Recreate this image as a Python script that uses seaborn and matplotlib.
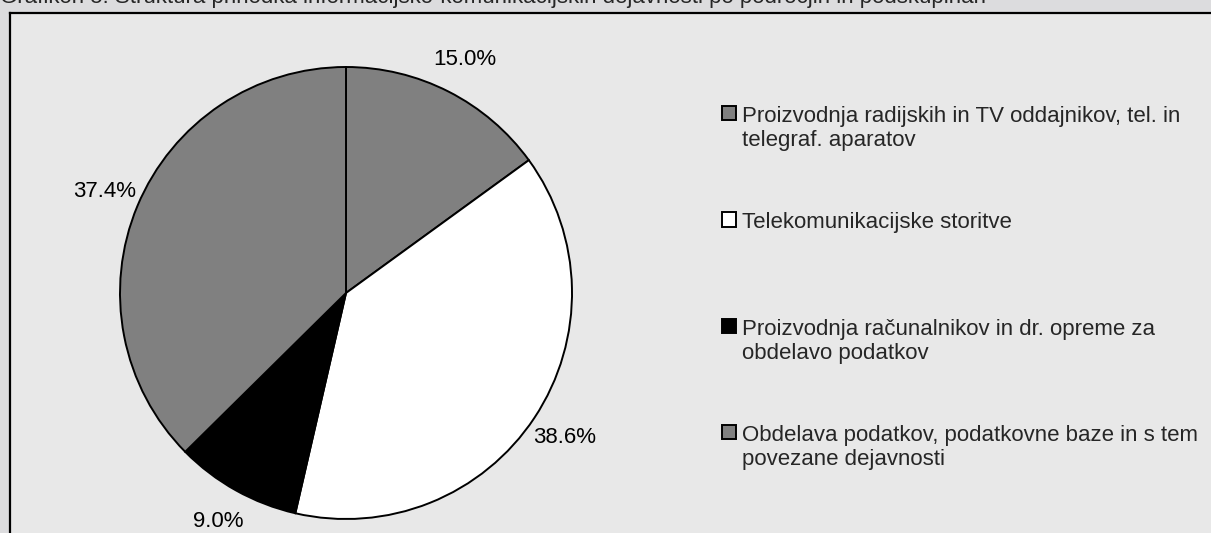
import matplotlib.pyplot as plt
import seaborn as sns

# Data
categories = [
    "Proizvodnja radijskih in TV oddajnikov, tel. in\ntelegraf. aparatov",
    "Telekomunikacijske storitve\n",
    "Proizvodnja računalnikov in dr. opreme za\nobdelavo podatkov",
    "Obdelava podatkov, podatkovne baze in s tem\npovezane dejavnosti",
]
shares = [15.0, 38.6, 9.0, 37.4]
slice_colors = ["#808080", "#ffffff", "#000000", "#808080"]
title = "Grafikon 5: Struktura prihodka informacijsko-komunikacijskih dejavnosti po področjih in podskupinah"

sns.set_style("white")
plt.rcParams["font.family"] = ["Liberation Sans", "DejaVu Sans"]

W, H = 1211, 533
fig = plt.figure(figsize=(W / 100, H / 100), dpi=100)
fig.patch.set_facecolor("#dcdcde")

# title strip, cut off by the top edge as in the reference
fig.text(0.0, 1 - 2.5 / H, title, fontsize=16, va="baseline", ha="left")

# chart area with frame
bg = fig.add_axes([10 / W, -0.02, 1.0, 1 - 13 / H + 0.02])
bg.set_facecolor("#e8e8e8")
bg.set_xticks([])
bg.set_yticks([])
for s in bg.spines.values():
    s.set_color("black")
    s.set_linewidth(1.6)

# pie axes: centre (346, 293) px, radius 226 px
cx, cy, r = 346, 293, 226
ax = fig.add_axes([(cx - r) / W, (H - cy - r) / H, 2 * r / W, 2 * r / H])
wedges, texts, autotexts = ax.pie(
    shares,
    colors=slice_colors,
    startangle=90,
    counterclock=False,
    autopct="%.1f%%",
    pctdistance=1.16,
    wedgeprops=dict(edgecolor="black", linewidth=1.4),
    textprops=dict(fontsize=16, color="black"),
)
ax.set_xlim(-1, 1)
ax.set_ylim(-1, 1)
ax.set_aspect("auto")
ax.axis("off")

leg = fig.legend(
    wedges,
    categories,
    loc="upper left",
    bbox_to_anchor=(722 / W, 1 - 106 / H),
    frameon=False,
    fontsize=16,
    handlelength=0.62,
    handleheight=0.62,
    handletextpad=0.3,
    borderpad=0,
    borderaxespad=0,
    labelspacing=2.75,
)
# put each marker beside the first line of its label
for col in leg._legend_handle_box.get_children():
    for row in col.get_children():
        row.align = "top"

fig.savefig("out.png", dpi=100, facecolor=fig.get_facecolor())
